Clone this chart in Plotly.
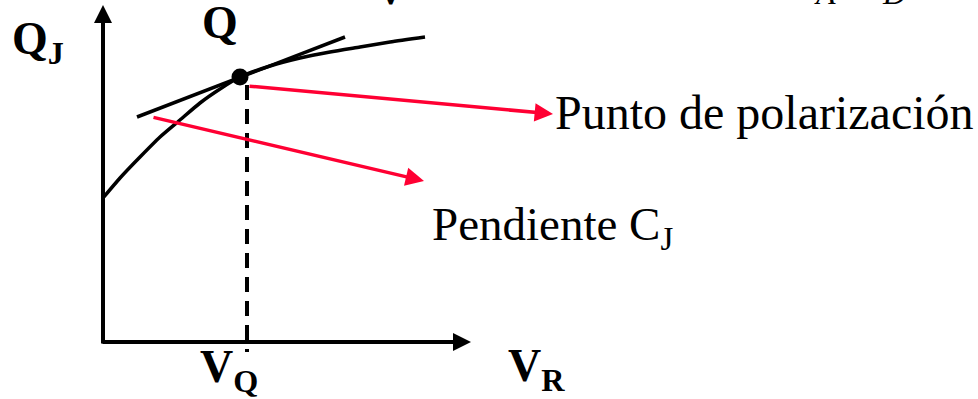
import plotly.graph_objects as go

# ---- data (diagram coordinates; y grows downward) ----
curve_x = [103, 120, 140, 160, 180, 200, 220, 240, 270, 300, 330, 360, 390, 425]
curve_y = [198, 178, 157, 137, 120, 103, 89, 77, 66, 58, 52, 47, 42, 37]

tangent_x = [137, 345]
tangent_y = [117, 37]

q_point_x = [240]
q_point_y = [77]

vq_x = [247, 247]
vq_y = [85, 352]

# axes: (tail, tip)
y_axis_tail = (103, 345)
y_axis_tip = (103, 5)
x_axis_tail = (101, 342)
x_axis_tip = (471, 342)

# red pointers: (tail, tip)
arrow_polar_tail = (248, 86)
arrow_polar_tip = (553, 114)
arrow_slope_tail = (152, 117)
arrow_slope_tip = (424, 181)

RED = "#ff0033"
SERIF = "Liberation Serif, Times New Roman, serif"

fig = go.Figure()

fig.add_trace(go.Scatter(x=curve_x, y=curve_y, mode="lines",
                         line=dict(color="black", width=3.5, shape="spline", smoothing=0.6),
                         hoverinfo="skip"))
fig.add_trace(go.Scatter(x=tangent_x, y=tangent_y, mode="lines",
                         line=dict(color="black", width=3.5), hoverinfo="skip"))
fig.add_trace(go.Scatter(x=vq_x, y=vq_y, mode="lines",
                         line=dict(color="black", width=4, dash="15px,9px"), hoverinfo="skip"))
fig.add_trace(go.Scatter(x=q_point_x, y=q_point_y, mode="markers",
                         marker=dict(color="black", size=17), hoverinfo="skip"))

annotations = []

def arrow(tail, tip, color, width, size, head=2):
    annotations.append(dict(x=tip[0], y=tip[1], ax=tail[0], ay=tail[1],
                            xref="x", yref="y", axref="x", ayref="y",
                            text="", showarrow=True, arrowhead=head,
                            arrowsize=size, arrowwidth=width, arrowcolor=color,
                            standoff=0, startstandoff=0))

arrow(y_axis_tail, y_axis_tip, "black", 4, 0.9)
arrow(x_axis_tail, x_axis_tip, "black", 4, 0.9)
arrow(arrow_polar_tail, arrow_polar_tip, RED, 3.5, 1.05)
arrow(arrow_slope_tail, arrow_slope_tip, RED, 3.5, 1.05)

def label(x, y, text, size, xanchor="left", yanchor="middle"):
    annotations.append(dict(x=x, y=y, xref="x", yref="y", text=text, showarrow=False,
                            xanchor=xanchor, yanchor=yanchor,
                            font=dict(family=SERIF, size=size, color="black")))

label(10, 42, "<b>Q<sub>J</sub></b>", 46)
label(200, 22, "<b>Q</b>", 46)
label(553, 112, "Punto de polarización", 48)
label(430, 227, "Pendiente C<sub>J</sub>", 47)
label(198, 370, "<b>V<sub>Q</sub></b>", 46)
label(506, 369, "<b>V<sub>R</sub></b>", 46)

# clipped fragments of the formula above the picture
label(390, 16, "<b>V</b>", 46, xanchor="center", yanchor="bottom")
label(557, 12, "<i>I</i>", 46, xanchor="center", yanchor="bottom")
label(825, 13, "<i>A</i>", 32, xanchor="center", yanchor="bottom")
label(894, 13, "<i>D</i>", 32, xanchor="center", yanchor="bottom")

fig.update_layout(
    width=978, height=399,
    margin=dict(l=0, r=0, t=0, b=0),
    paper_bgcolor="white", plot_bgcolor="white",
    showlegend=False,
    xaxis=dict(range=[0, 978], visible=False, fixedrange=True),
    yaxis=dict(range=[399, 0], visible=False, fixedrange=True),
    annotations=annotations,
)

fig.write_html("out.html", config={"displayModeBar": False, "staticPlot": True},
               post_script="document.body.style.margin='0';")
